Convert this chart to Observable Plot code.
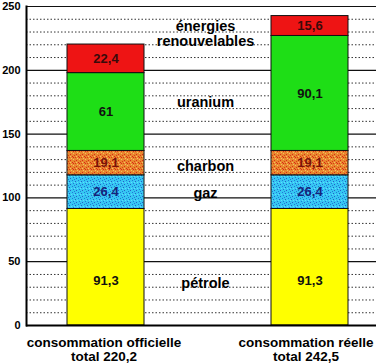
<!DOCTYPE html>
<html>
<head>
<meta charset="utf-8">
<script src="https://cdn.jsdelivr.net/npm/d3@7"></script>
<script src="https://cdn.jsdelivr.net/npm/@observablehq/plot@0.6"></script>
<style>
  html, body { margin: 0; padding: 0; background: #fff; }
</style>
</head>
<body>
<div id="chart"></div>
<script>
const categories = ["pétrole", "gaz", "charbon", "uranium", "énergies renouvelables"];
const categoryLabels = ["pétrole", "gaz", "charbon", "uranium", "énergies\nrenouvelables"];
const bars = ["consommation officielle\ntotal 220,2", "consommation réelle\ntotal 242,5"];
const officielle = [91.3, 26.4, 19.1, 61, 22.4];
const reelle = [91.3, 26.4, 19.1, 90.1, 15.6];
const colors = ["#ffff00", "url(#pat-gaz)", "url(#pat-charbon)", "#1ede16", "#ee1414"];
const textColors = ["#111", "#14247a", "#7a1208", "#111", "#3a0a0a"];
const yTicks = [0, 50, 100, 150, 200, 250];
const minorTicks = [10, 20, 30, 40, 60, 70, 80, 90, 110, 120, 130, 140, 160, 170, 180, 190, 210, 220, 230, 240];
const labelY = [33, 104, 125, 175, 229];

const series = [officielle, reelle];
const rows = [];
bars.forEach((b, i) => {
  let acc = 0;
  categories.forEach((c, j) => {
    const v = series[i][j];
    rows.push({bar: b, cat: c, y1: acc, y2: acc + v, v, tc: textColors[j]});
    acc += v;
  });
});
const fmt = v => String(v).replace(".", ",");

const chart = Plot.plot({
  width: 376,
  height: 364,
  marginLeft: 26,
  marginRight: 0,
  marginTop: 6,
  marginBottom: 39,
  style: {fontFamily: "'Liberation Sans', Arial, sans-serif", fontWeight: "bold", background: "#fff", color: "#000"},
  x: {domain: bars, paddingInner: 0.624, paddingOuter: 0.166, align: 0.59, label: null, axis: null},
  y: {domain: [0, 250], label: null, axis: null},
  color: {type: "ordinal", domain: categories, range: colors},
  marks: [
    Plot.ruleY(minorTicks, {stroke: "#333", strokeDasharray: "1.5,2", strokeWidth: 1}),
    Plot.ruleY(yTicks, {stroke: "#111", strokeWidth: 1.2}),
    Plot.rectY(rows, {x: "bar", y1: "y1", y2: "y2", fill: "cat", stroke: "#111", strokeWidth: 1}),
    Plot.text(rows.filter(d => d.cat !== "pétrole"), {x: "bar", y: d => (d.y1 + d.y2) / 2, text: d => fmt(d.v), fontSize: 13, fill: d => d.tc}),
    Plot.text(rows.filter(d => d.cat === "pétrole"), {x: "bar", y: d => (d.y1 + d.y2) / 2, text: d => fmt(d.v), fontSize: 13, fill: "#111", dy: 14}),
    Plot.text(categoryLabels, {y: (d, i) => labelY[i], text: d => d, frameAnchor: "middle", dx: 4, fontSize: 14.5, lineHeight: 1.05, fill: "#000"}),
    Plot.axisY({ticks: yTicks, tickSize: 0, tickPadding: 6, fontSize: 11, label: null}),
    Plot.axisX({ticks: [bars[0]], tickSize: 0, tickPadding: 11, fontSize: 13.5, lineHeight: 1.08, label: null, dx: -2}),
    Plot.axisX({ticks: [bars[1]], tickSize: 0, tickPadding: 11, fontSize: 13.5, lineHeight: 1.08, label: null, dx: -4}),
    Plot.ruleY([0], {stroke: "#000", strokeWidth: 2}),
    Plot.frame({anchor: "left", stroke: "#000", strokeWidth: 2})
  ]
});

// dithered textures for gaz and charbon
const ns = "http://www.w3.org/2000/svg";
const defs = document.createElementNS(ns, "defs");
function pattern(id, base, dots) {
  const p = document.createElementNS(ns, "pattern");
  p.setAttribute("id", id);
  p.setAttribute("patternUnits", "userSpaceOnUse");
  p.setAttribute("width", 6);
  p.setAttribute("height", 6);
  const bg = document.createElementNS(ns, "rect");
  bg.setAttribute("width", 6); bg.setAttribute("height", 6); bg.setAttribute("fill", base);
  p.appendChild(bg);
  dots.forEach(([x, y, c]) => {
    const r = document.createElementNS(ns, "rect");
    r.setAttribute("x", x); r.setAttribute("y", y);
    r.setAttribute("width", 1); r.setAttribute("height", 1); r.setAttribute("fill", c);
    p.appendChild(r);
  });
  defs.appendChild(p);
}
pattern("pat-gaz", "#36c6f2", [[0,0,"#1e7ad8"],[3,1,"#2a5cc8"],[1,3,"#1e7ad8"],[4,4,"#2a5cc8"],[5,2,"#5ae0ff"],[2,5,"#1e7ad8"],[2,2,"#5ae0ff"]]);
pattern("pat-charbon", "#e8872e", [[0,0,"#d8281a"],[3,1,"#e03a14"],[1,3,"#f4c060"],[4,4,"#d8281a"],[5,2,"#f4c060"],[2,5,"#e03a14"],[1,1,"#d8281a"],[4,0,"#f4c060"]]);
chart.insertBefore(defs, chart.firstChild);
document.getElementById("chart").appendChild(chart);
</script>
</body>
</html>
